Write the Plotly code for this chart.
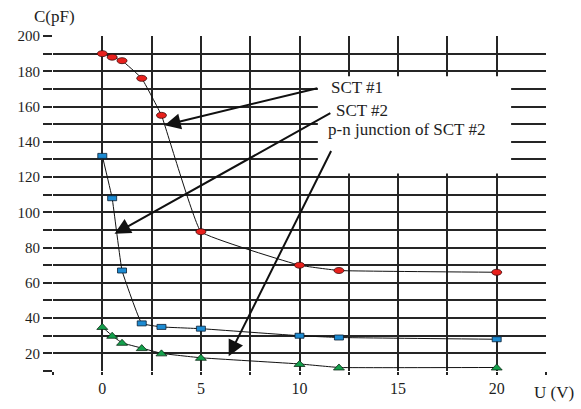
import plotly.graph_objects as go

# Bias voltage (V) and measured capacitance (pF)
u_sct1 = [0, 0.5, 1, 2, 3, 5, 10, 12, 20]
c_sct1 = [190, 188, 186, 176, 155, 89, 70, 67, 66]

u_sct2 = [0, 0.5, 1, 2, 3, 5, 10, 12, 20]
c_sct2 = [132, 108, 67, 37, 35, 34, 30, 29, 28]

u_pn = [0, 0.5, 1, 2, 3, 5, 10, 12, 20]
c_pn = [35, 30, 26, 23, 20, 17.5, 14, 12, 12]

x_tick_vals = [-2.5, 0, 2.5, 5, 7.5, 10, 12.5, 15, 17.5, 20, 22.5]
x_tick_text = ["", "0", "", "5", "", "10", "", "15", "", "20", ""]
y_tick_vals = list(range(10, 201, 10))
y_tick_text = [str(v) if v % 20 == 0 else "" for v in y_tick_vals]

# Legend-like labels and where their arrows point (tail -> head, data units)
labels = ["SCT #1", "SCT #2", "p-n junction of SCT #2"]
label_pos = [(11.5, 170.6), (11.75, 157.8), (11.35, 146.7)]
arrow_tail = [(10.98, 170.6), (11.64, 156.7), (11.64, 135.6)]
arrow_head = [(3.16, 149.4), (0.62, 87.8), (6.41, 18.3)]

FONT = "Liberation Serif, Times New Roman, serif"
TXT = "#1e1e1e"
GRID = "#252525"

fig = go.Figure()

for xs, ys in [(u_sct1, c_sct1), (u_sct2, c_sct2), (u_pn, c_pn)]:
    fig.add_trace(go.Scatter(
        x=xs, y=ys, mode="lines",
        line=dict(color="#111111", width=1, shape="spline", smoothing=0.25),
        hoverinfo="skip", showlegend=False,
    ))

shapes = []
# white panel behind the text labels
shapes.append(dict(type="rect", xref="x", yref="y", x0=10.93, x1=20.73, y0=122, y1=177.2,
                   fillcolor="white", line=dict(width=0), layer="between"))

# ellipse markers (SCT #1)
for xv, yv in zip(u_sct1, c_sct1):
    shapes.append(dict(type="circle", xref="x", yref="y", xsizemode="pixel", ysizemode="pixel",
                       xanchor=xv, yanchor=yv, x0=-5, x1=5, y0=-3, y1=3,
                       fillcolor="#e8201c", line=dict(color="#3a0a0a", width=0.8), layer="above"))
# rectangle markers (SCT #2)
for xv, yv in zip(u_sct2, c_sct2):
    shapes.append(dict(type="rect", xref="x", yref="y", xsizemode="pixel", ysizemode="pixel",
                       xanchor=xv, yanchor=yv, x0=-4.5, x1=4.5, y0=-2.5, y1=2.5,
                       fillcolor="#1c8bd2", line=dict(color="#0a1e33", width=0.8), layer="above"))
# triangle markers (p-n junction)
for xv, yv in zip(u_pn, c_pn):
    shapes.append(dict(type="path", xref="x", yref="y", xsizemode="pixel", ysizemode="pixel",
                       xanchor=xv, yanchor=yv, path="M -5.5 -2.5 L 5.5 -2.5 L 0 3.5 Z",
                       fillcolor="#14a04c", line=dict(color="#0a2a14", width=0.8), layer="above"))

annotations = []
for text, (lx, ly) in zip(labels, label_pos):
    annotations.append(dict(x=lx, y=ly, xref="x", yref="y", text=text, showarrow=False,
                            xanchor="left", yanchor="middle",
                            font=dict(family=FONT, size=17, color=TXT)))
for (tx, ty), (hx, hy) in zip(arrow_tail, arrow_head):
    annotations.append(dict(x=hx, y=hy, ax=tx, ay=ty, xref="x", yref="y", axref="x", ayref="y",
                            text="", showarrow=True, arrowhead=2, arrowsize=1.6,
                            arrowwidth=2, arrowcolor="#111111"))
annotations.append(dict(x=-0.043, y=1.058, xref="paper", yref="paper", text="C(pF)",
                        showarrow=False, xanchor="left", yanchor="middle",
                        font=dict(family=FONT, size=17, color=TXT)))
annotations.append(dict(x=0.972, y=-0.064, xref="paper", yref="paper", text="U (V)",
                        showarrow=False, xanchor="left", yanchor="middle",
                        font=dict(family=FONT, size=17, color=TXT)))

fig.update_layout(
    width=581, height=409,
    margin=dict(l=53, r=35, t=36, b=31),
    paper_bgcolor="white", plot_bgcolor="white",
    shapes=shapes, annotations=annotations,
    font=dict(family=FONT, size=16, color=TXT),
    xaxis=dict(range=[-2.5, 22.5], tickmode="array", tickvals=x_tick_vals, ticktext=x_tick_text,
               showgrid=True, gridcolor=GRID, gridwidth=1.5, zeroline=False,
               ticks="outside", ticklen=3, tickcolor=GRID, tickwidth=1.5,
               showline=False, tickfont=dict(family=FONT, size=16, color=TXT)),
    yaxis=dict(range=[10, 200], tickmode="array", tickvals=y_tick_vals, ticktext=y_tick_text,
               showgrid=True, gridcolor=GRID, gridwidth=1.5, zeroline=False,
               ticks="outside", ticklen=9, tickcolor=GRID, tickwidth=1.5,
               showline=False, tickfont=dict(family=FONT, size=15, color=TXT)),
)

fig.write_html("out.html")
